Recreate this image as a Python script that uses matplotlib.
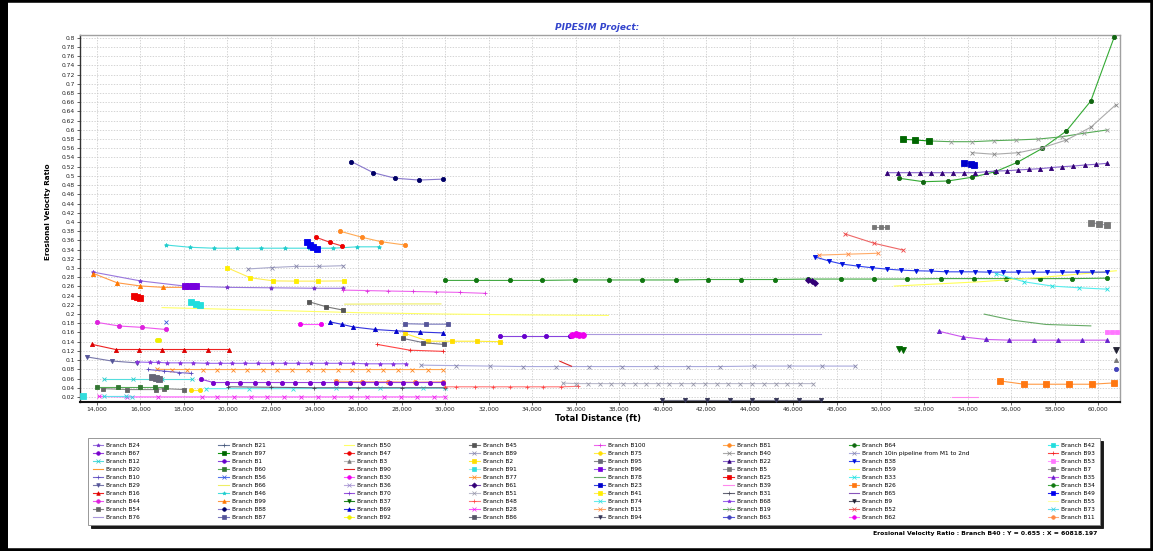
import matplotlib
matplotlib.use("Agg")
import matplotlib.pyplot as plt
from matplotlib.lines import Line2D
from matplotlib.patches import Rectangle

# ---------------- data ----------------
b88_x = [25700, 26700, 27700, 28800, 29900]
b88_y = [0.531, 0.507, 0.495, 0.491, 0.493]
b46_x = [17165, 18284, 19385, 20454, 21541, 22642, 23757, 24857, 25972, 26968]
b46_y = [0.350, 0.345, 0.343, 0.343, 0.343, 0.343, 0.343, 0.343, 0.346, 0.346]
b49_x = [23650, 23800, 23950, 24130]
b49_y = [0.356, 0.351, 0.346, 0.342]
b47_x = [24090, 24710, 25280]
b47_y = [0.3665, 0.3557, 0.3476]
b81_x = [25165, 26200, 27073, 28147]
b81_y = [0.380, 0.3665, 0.357, 0.350]
b89_x = [20960, 22030, 23130, 24200, 25320]
b89_y = [0.298, 0.301, 0.3035, 0.3035, 0.305]
b41_x = [19970, 21040, 22110, 23170, 24170, 25350]
b41_y = [0.301, 0.279, 0.272, 0.2715, 0.2715, 0.272]
b99_x = [13850, 14930, 16000, 17060, 18060]
b99_y = [0.288, 0.268, 0.261, 0.258, 0.258]
b24_x = [13850, 16000, 18000, 20000, 22000, 24000, 25300]
b24_y = [0.291, 0.272, 0.261, 0.258, 0.257, 0.256, 0.256]
b96_x = [18050, 18250, 18400, 18570]
b96_y = [0.261, 0.261, 0.260, 0.260]
b100_x = [25320, 26390, 27380, 28530, 29600, 30670, 31820]
b100_y = [0.252, 0.251, 0.250, 0.249, 0.248, 0.247, 0.245]
b25_x = [15700, 15850, 16000]
b25_y = [0.240, 0.236, 0.234]
b42_x = [18350, 18550, 18740]
b42_y = [0.226, 0.222, 0.219]
b45_x = [23760, 24550, 25320]
b45_y = [0.2265, 0.2157, 0.2085]
b50_x = [17000, 22000, 26000, 30000, 34000, 37500]
b50_y = [0.214, 0.208, 0.203, 0.200, 0.198, 0.197]
b66_x = [25390, 27500, 29810]
b66_y = [0.2215, 0.222, 0.222]
b44_x = [14000, 15030, 16100, 17165]
b44_y = [0.182, 0.174, 0.171, 0.1665]
b56_x = [17165]
b56_y = [0.182]
b92_x = [16750, 16850]
b92_y = [0.143, 0.143]
b16_x = [13800, 14870, 15945, 17014, 18023, 19092, 20073]
b16_y = [0.134, 0.123, 0.123, 0.123, 0.123, 0.123, 0.123]
b29_x = [13541, 14688, 15835]
b29_y = [0.107, 0.098, 0.094]
b68_x = [15835, 16450, 16830, 17210, 17825, 18435, 19046, 19660, 20193, 20807,
         21417, 22027, 22642, 23252, 23862, 24550, 25165, 25775, 26385, 27000,
         27610, 28220]
b68_y = [0.096, 0.095, 0.095, 0.094, 0.094, 0.094, 0.093, 0.093, 0.093, 0.093,
         0.093, 0.093, 0.093, 0.093, 0.093, 0.093, 0.093, 0.093, 0.092, 0.092,
         0.092, 0.092]
m10in_x = [28908, 30514, 32059, 33587, 35087, 36614, 38146, 39670, 41152, 42637,
           44210, 45785, 47318, 48844]
m10in_y = [0.089, 0.088, 0.087, 0.086, 0.086, 0.086, 0.086, 0.086, 0.086, 0.086,
           0.087, 0.087, 0.087, 0.087]
b77_x = [16780, 17470, 18150, 18860, 19540, 20240, 20910, 21620, 22300, 22980,
         23690, 24370, 25060, 25740, 26450, 27130, 27820, 28500, 29210, 29890]
b77_y = [0.080, 0.0795, 0.0795, 0.0795, 0.0795, 0.0795, 0.0795, 0.0795, 0.0795, 0.0795,
         0.0795, 0.0795, 0.0795, 0.0795, 0.0795, 0.0795, 0.0795, 0.0795, 0.0795, 0.0795]
b10_x = [16370, 17100, 17800, 18340]
b10_y = [0.0796, 0.076, 0.073, 0.071]
b67_x = [18789, 19353, 19963, 20578, 21266, 21876, 22487, 23101, 23789, 24399,
         25010, 25624, 26234, 26844, 27458, 28069, 28679, 29294, 29904]
b67_y = [0.0585, 0.0513, 0.0513, 0.0513, 0.0513, 0.0513, 0.0513, 0.0513, 0.0513, 0.0513,
         0.0513, 0.0513, 0.0513, 0.0513, 0.0513, 0.0513, 0.0513, 0.0513, 0.0513]
b11_x = [25000, 26200, 27400, 28600, 29900]
b11_y = [0.054, 0.053, 0.053, 0.052, 0.053]
b12_x = [14350, 15680, 16980, 18360]
b12_y = [0.0585, 0.0585, 0.0585, 0.0585]
b95_x = [16550, 16700, 16850]
b95_y = [0.063, 0.062, 0.060]
b60_x = [14000, 14995, 15990, 16680, 17165]
b60_y = [0.042, 0.042, 0.042, 0.042, 0.042]
b54_x = [14300, 15400, 16700, 17100, 18023]
b54_y = [0.038, 0.036, 0.036, 0.038, 0.036]
b75_x = [18340, 18740]
b75_y = [0.036, 0.036]
b74_x = [19000, 21000, 23000, 25000, 27000, 29000, 30000]
b74_y = [0.038, 0.038, 0.038, 0.0385, 0.0385, 0.039, 0.039]
b31_x = [20050, 22000, 24000, 26000, 28000, 30000]
b31_y = [0.042, 0.041, 0.040, 0.040, 0.040, 0.040]
b48_x = [29981, 30514, 31357, 32197, 32976, 33742, 34504, 35302, 36109]
b48_y = [0.042, 0.042, 0.042, 0.042, 0.042, 0.042, 0.042, 0.042, 0.043]
b51_x = [35400, 36000, 36550, 37100, 37600, 38150, 38700, 39250, 39800, 40300, 40850,
         41400, 41950, 42500, 43000, 43550, 44100, 44650, 45200, 45700, 46300, 46900]
b51_y = [0.050, 0.049, 0.049, 0.049, 0.049, 0.049, 0.049, 0.049, 0.049, 0.049, 0.049,
         0.049, 0.049, 0.049, 0.049, 0.049, 0.049, 0.049, 0.049, 0.049, 0.049, 0.049]
b28_x = [14080, 15380, 16830, 18830, 19540, 20310, 21070, 21840, 22600, 23370,
         24140, 24900, 25670, 26430, 27200, 27960, 28730, 29500, 30000]
b28_y = [0.021, 0.020, 0.020, 0.020, 0.020, 0.020, 0.020, 0.020, 0.020, 0.020,
         0.020, 0.020, 0.020, 0.020, 0.020, 0.020, 0.020, 0.020, 0.020]
b91_x = [13390]
b91_y = [0.022]
b73_x = [14310, 15330, 15600]
b73_y = [0.021, 0.021, 0.020]
b34_x = [29985, 31438, 32976, 34430, 35958, 37531, 39063, 40623, 42073, 43605, 45133,
         46661, 48190, 49722, 51222, 52777, 54305, 55757, 57320, 58816, 60421]
b34_y = [0.273, 0.273, 0.273, 0.273, 0.274, 0.274, 0.274, 0.274, 0.275, 0.275, 0.275,
         0.276, 0.276, 0.276, 0.276, 0.277, 0.277, 0.277, 0.277, 0.277, 0.278]
b61_x = [46650, 46850, 47000]
b61_y = [0.275, 0.271, 0.268]
b1_x = [32518, 33633, 34628, 35729]
b1_y = [0.152, 0.152, 0.152, 0.152]
b62_x = [35830, 36000, 36150, 36330]
b62_y = [0.155, 0.156, 0.155, 0.154]
b76_x = [36300, 40000, 44000, 47250]
b76_y = [0.156, 0.156, 0.156, 0.156]
b2_x = [28150, 29230, 30300, 31450, 32520]
b2_y = [0.158, 0.141, 0.141, 0.141, 0.140]
b69_x = [24706, 25284, 25775, 26770, 27761, 28834, 29903]
b69_y = [0.183, 0.1774, 0.172, 0.1665, 0.1635, 0.161, 0.159]
b30_x = [23330, 24290]
b30_y = [0.1774, 0.1774]
b87_x = [28147, 29137, 30133]
b87_y = [0.179, 0.178, 0.178]
b86_x = [28069, 28986, 29936]
b86_y = [0.147, 0.138, 0.134]
b93_x = [26890, 28380, 29900]
b93_y = [0.134, 0.1215, 0.119]
b90_x = [35270, 35540, 35807]
b90_y = [0.0976, 0.092, 0.0867]
b94_x = [39980, 41004, 42045, 43068, 44109, 45178, 46247, 47274]
b94_y = [0.013, 0.013, 0.013, 0.013, 0.013, 0.013, 0.013, 0.013]
b64_x = [50870, 51970, 53080, 54200, 55270, 56290, 57440, 58540, 59660, 60730]
b64_y = [0.4948, 0.4874, 0.4889, 0.497, 0.509, 0.5296, 0.560, 0.5976, 0.6628, 0.801]
b97_x = [51017, 51600, 52210]
b97_y = [0.5796, 0.578, 0.5759]
b19_x = [52210, 53230, 54220, 55210, 56210, 57240, 58320, 59340, 60410]
b19_y = [0.576, 0.5743, 0.5743, 0.5765, 0.578, 0.580, 0.585, 0.5926, 0.5998]
b40_x = [54200, 55223, 56337, 57438, 58540, 59659, 60818.197]
b40_y = [0.5504, 0.547, 0.5504, 0.5613, 0.578, 0.6057, 0.655]
b23_x = [53850, 54150, 54310]
b23_y = [0.5287, 0.526, 0.5237]
b22_x = [50284, 50789, 51293, 51816, 52320, 52825, 53343, 53848, 54353, 54843, 55302,
         55807, 56293, 56830, 57320, 57825, 58357, 58862, 59399, 59889, 60421]
b22_y = [0.507, 0.507, 0.507, 0.507, 0.507, 0.507, 0.507, 0.507, 0.507, 0.509, 0.5105,
         0.5113, 0.5128, 0.5143, 0.5157, 0.518, 0.520, 0.5215, 0.5237, 0.5252, 0.5274]
b5_x = [59659, 60041, 60421]
b5_y = [0.398, 0.3954, 0.393]
b7_x = [49718, 50028, 50284]
b7_y = [0.3896, 0.3896, 0.3896]
b52_x = [48390, 49718, 51050]
b52_y = [0.3737, 0.3535, 0.3389]
b15_x = [47164, 48494, 49870]
b15_y = [0.328, 0.330, 0.332]
b38_x = [46968, 47656, 48238, 48954, 49614, 50284, 50943, 51631, 52320, 53008, 53696,
         54352, 54962, 55636, 56293, 56981, 57669, 58357, 59045, 59733, 60421]
b38_y = [0.3243, 0.315, 0.3085, 0.3041, 0.3005, 0.2976, 0.2954, 0.294, 0.2933, 0.2917, 0.2917,
         0.2917, 0.291, 0.291, 0.291, 0.291, 0.291, 0.291, 0.291, 0.291, 0.291]
b59_x = [50634, 54535, 57500, 60830]
b59_y = [0.2607, 0.270, 0.280, 0.294]
b33_x = [55302, 56600, 57898, 59123, 60421]
b33_y = [0.288, 0.270, 0.2607, 0.257, 0.254]
b78_x = [54765, 56063, 57595, 59659]
b78_y = [0.1998, 0.1867, 0.1774, 0.1743]
b35_x = [52669, 53770, 54843, 55912, 57058, 58173, 59274, 60421]
b35_y = [0.1628, 0.1504, 0.1448, 0.1433, 0.1433, 0.1433, 0.1433, 0.1433]
b53_x = [60421, 60650, 60880]
b53_y = [0.161, 0.161, 0.161]
b37_x = [50870, 51050]
b37_y = [0.125, 0.123]
b9_x = [60800]
b9_y = [0.123]
b3_x = [60800]
b3_y = [0.101]
b63_x = [60800]
b63_y = [0.0796]
b26_x = [55480, 56600, 57620, 58660, 59700, 60730]
b26_y = [0.0548, 0.0476, 0.0476, 0.0476, 0.0476, 0.0505]
b39_x = [53300, 54500]
b39_y = [0.020, 0.020]

# tick values
x_ticks = list(range(14000, 60001, 2000))
y_ticks = [k / 50 for k in range(1, 41)]

# ---------------- legend entries and styles ----------------
# (label, line colour, marker, marker colour) in column order
legend_entries = [
    ("Branch B24", "#9977dd", "*", "#7733cc"), ("Branch B67", "#9944dd", "o", "#7700cc"),
    ("Branch B12", "#55dddd", "x", "#22cccc"), ("Branch B20", "#ff9933", "", None),
    ("Branch B10", "#7766cc", "+", "#5544bb"), ("Branch B29", "#7777aa", "v", "#555599"),
    ("Branch B16", "#ee2222", "^", "#dd0000"), ("Branch B44", "#ee55ee", "o", "#dd22dd"),
    ("Branch B54", "#888888", "s", "#666666"), ("Branch B76", "#aa99dd", "", None),
    ("Branch B21", "#667799", "+", "#445577"), ("Branch B97", "#119911", "s", "#006600"),
    ("Branch B1", "#8844dd", "o", "#6600cc"), ("Branch B60", "#55aa55", "s", "#337733"),
    ("Branch B56", "#5577ee", "x", "#3355dd"), ("Branch B66", "#eeee66", "", None),
    ("Branch B46", "#44dddd", "*", "#22cccc"), ("Branch B99", "#ff9944", "^", "#ff7700"),
    ("Branch B88", "#8877cc", "o", "#000066"), ("Branch B87", "#7777bb", "s", "#555599"),
    ("Branch B50", "#ffff66", "", None), ("Branch B47", "#ee3333", "o", "#ee0000"),
    ("Branch B3", "#bbbbbb", "^", "#777777"), ("Branch B90", "#dd2222", "", None),
    ("Branch B30", "#ff55ff", "o", "#ee00ee"), ("Branch B36", "#bbaadd", "x", "#9988cc"),
    ("Branch B70", "#9955dd", "+", "#7733cc"), ("Branch B37", "#228822", "v", "#006600"),
    ("Branch B69", "#3333dd", "^", "#0000cc"), ("Branch B92", "#ffff33", "o", "#eeee00"),
    ("Branch B45", "#777777", "s", "#555555"), ("Branch B89", "#aaaacc", "x", "#8888aa"),
    ("Branch B2", "#ffee33", "s", "#ffdd00"), ("Branch B91", "#99eeee", "s", "#33dddd"),
    ("Branch B77", "#ffaa55", "x", "#ff8822"), ("Branch B61", "#7744aa", "D", "#330077"),
    ("Branch B51", "#bbbbcc", "x", "#9999aa"), ("Branch B48", "#ff7777", "+", "#ff4444"),
    ("Branch B28", "#ff55ff", "x", "#ee22ee"), ("Branch B86", "#777788", "s", "#555566"),
    ("Branch B100", "#ee66ee", "+", "#dd33dd"), ("Branch B75", "#ffee44", "o", "#ffdd00"),
    ("Branch B95", "#888888", "s", "#666677"), ("Branch B96", "#9955ee", "s", "#7700dd"),
    ("Branch B78", "#66aa66", "", None), ("Branch B23", "#3344dd", "s", "#0000cc"),
    ("Branch B41", "#ffee55", "s", "#ffee00"), ("Branch B74", "#66eeee", "x", "#33dddd"),
    ("Branch B15", "#ffaa66", "x", "#ff8844"), ("Branch B94", "#777788", "v", "#333355"),
    ("Branch B81", "#ffaa55", "o", "#ff8822"), ("Branch B40", "#aaaaaa", "x", "#888888"),
    ("Branch B22", "#8866cc", "^", "#330077"), ("Branch B5", "#9999aa", "s", "#777777"),
    ("Branch B25", "#ee2222", "s", "#ee0000"), ("Branch B39", "#ff88ee", "", None),
    ("Branch B31", "#666677", "+", "#444455"), ("Branch B68", "#9966ee", "*", "#8833dd"),
    ("Branch B19", "#55aa55", "x", "#999999"), ("Branch B63", "#5555dd", "o", "#4444bb"),
    ("Branch B64", "#33aa33", "o", "#116611"),
    ("Branch 10in pipeline from M1 to 2nd", "#aaaadd", "x", "#8888aa"),
    ("Branch B38", "#3344ee", "v", "#0011dd"), ("Branch B59", "#ffff55", "", None),
    ("Branch B33", "#55eeee", "x", "#22dddd"), ("Branch B26", "#ff9944", "s", "#ff7711"),
    ("Branch B65", "#8855bb", "", None), ("Branch B9", "#555566", "v", "#222233"),
    ("Branch B52", "#ee6666", "x", "#ee4444"), ("Branch B62", "#ff66ff", "o", "#ee00ee"),
    ("Branch B42", "#44eeee", "s", "#22dddd"), ("Branch B93", "#ff4444", "+", "#ee2222"),
    ("Branch B53", "#ff99ff", "s", "#ff77ff"), ("Branch B7", "#999999", "s", "#777777"),
    ("Branch B35", "#cc55ee", "^", "#6622cc"), ("Branch B34", "#44aa44", "o", "#117711"),
    ("Branch B49", "#2222ee", "s", "#0000ee"), ("Branch B55", "#ffffaa", "", None),
    ("Branch B73", "#66ddee", "x", "#33ccdd"), ("Branch B11", "#ffaa77", "o", "#ff8844"),
]
style = {lab: (lc, mk, mc) for lab, lc, mk, mc in legend_entries}

series = [
    ("Branch B88", b88_x, b88_y), ("Branch B46", b46_x, b46_y), ("Branch B49", b49_x, b49_y),
    ("Branch B47", b47_x, b47_y), ("Branch B81", b81_x, b81_y), ("Branch B89", b89_x, b89_y),
    ("Branch B41", b41_x, b41_y), ("Branch B50", b50_x, b50_y), ("Branch B66", b66_x, b66_y),
    ("Branch B24", b24_x, b24_y), ("Branch B99", b99_x, b99_y), ("Branch B96", b96_x, b96_y),
    ("Branch B100", b100_x, b100_y), ("Branch B25", b25_x, b25_y), ("Branch B42", b42_x, b42_y),
    ("Branch B45", b45_x, b45_y), ("Branch B44", b44_x, b44_y), ("Branch B56", b56_x, b56_y),
    ("Branch B92", b92_x, b92_y), ("Branch B16", b16_x, b16_y), ("Branch B29", b29_x, b29_y),
    ("Branch 10in pipeline from M1 to 2nd", m10in_x, m10in_y), ("Branch B68", b68_x, b68_y),
    ("Branch B77", b77_x, b77_y), ("Branch B10", b10_x, b10_y), ("Branch B11", b11_x, b11_y),
    ("Branch B67", b67_x, b67_y), ("Branch B12", b12_x, b12_y), ("Branch B95", b95_x, b95_y),
    ("Branch B54", b54_x, b54_y), ("Branch B60", b60_x, b60_y), ("Branch B75", b75_x, b75_y),
    ("Branch B74", b74_x, b74_y), ("Branch B31", b31_x, b31_y), ("Branch B48", b48_x, b48_y),
    ("Branch B51", b51_x, b51_y), ("Branch B28", b28_x, b28_y), ("Branch B91", b91_x, b91_y),
    ("Branch B73", b73_x, b73_y), ("Branch B34", b34_x, b34_y), ("Branch B61", b61_x, b61_y),
    ("Branch B76", b76_x, b76_y), ("Branch B1", b1_x, b1_y), ("Branch B62", b62_x, b62_y),
    ("Branch B2", b2_x, b2_y), ("Branch B30", b30_x, b30_y), ("Branch B69", b69_x, b69_y),
    ("Branch B87", b87_x, b87_y), ("Branch B86", b86_x, b86_y), ("Branch B93", b93_x, b93_y),
    ("Branch B90", b90_x, b90_y), ("Branch B94", b94_x, b94_y), ("Branch B64", b64_x, b64_y),
    ("Branch B19", b19_x, b19_y), ("Branch B97", b97_x, b97_y), ("Branch B40", b40_x, b40_y),
    ("Branch B23", b23_x, b23_y), ("Branch B22", b22_x, b22_y), ("Branch B5", b5_x, b5_y),
    ("Branch B7", b7_x, b7_y), ("Branch B52", b52_x, b52_y), ("Branch B15", b15_x, b15_y),
    ("Branch B59", b59_x, b59_y), ("Branch B38", b38_x, b38_y), ("Branch B33", b33_x, b33_y),
    ("Branch B78", b78_x, b78_y), ("Branch B35", b35_x, b35_y), ("Branch B53", b53_x, b53_y),
    ("Branch B37", b37_x, b37_y), ("Branch B9", b9_x, b9_y), ("Branch B3", b3_x, b3_y),
    ("Branch B63", b63_x, b63_y), ("Branch B26", b26_x, b26_y), ("Branch B39", b39_x, b39_y),
]
big_markers = {"Branch B25": 4.5, "Branch B49": 4.5, "Branch B42": 4.2, "Branch B91": 4.5,
               "Branch B26": 4.0, "Branch B97": 4.0, "Branch B96": 4.2, "Branch B62": 4.2,
               "Branch B95": 4.0, "Branch B23": 4.0, "Branch B5": 3.8, "Branch B37": 4.0,
               "Branch B9": 4.0}

# ---------------- figure ----------------
W, H = 1153, 551
fig = plt.figure(figsize=(W / 100, H / 100), dpi=100)
fig.patch.set_facecolor("white")
ax = fig.add_axes([80 / W, 1 - 402 / H, (1120 - 80) / W, (402 - 35) / H])

for lab, xs, ys in series:
    lc, mk, mc = style[lab]
    ms = big_markers.get(lab, 3.0)
    ax.plot(xs, ys, color=lc, lw=0.8, marker=mk if mk else None, ms=ms,
            markerfacecolor=mc if mc else lc, markeredgecolor=mc if mc else lc,
            markeredgewidth=0.6, zorder=3)

ax.set_xlim(13230, 61000)
ax.set_ylim(0.009, 0.806)
ax.set_xticks(x_ticks)
ax.set_xticklabels([f"{v:,}" for v in x_ticks])
ax.set_yticks(y_ticks)
ax.set_yticklabels([f"{round(v, 2):g}" for v in y_ticks])
ax.tick_params(axis="both", labelsize=4.3, length=2, width=0.5, pad=1.5, colors="#222222")
ax.grid(True, color="#c4c4c4", lw=0.5, ls=(0, (2, 2)))
ax.set_axisbelow(True)
for side in ("top", "right"):
    ax.spines[side].set_color("#a0a0a0")
    ax.spines[side].set_linewidth(1.0)
ax.spines["left"].set_color("#333333")
ax.spines["left"].set_linewidth(1.0)
ax.spines["bottom"].set_color("#111111")
ax.spines["bottom"].set_linewidth(1.5)

fig.text(597 / W, 1 - 28 / H, "PIPESIM Project:", color="#3344cc", style="italic",
         weight="bold", fontsize=6.5, ha="center", va="center")
fig.text(48 / W, 1 - 212 / H, "Erosional Velocity Ratio", rotation=90, fontsize=5.2,
         weight="bold", ha="center", va="center")
fig.text(598 / W, 1 - 418 / H, "Total Distance (ft)", fontsize=6, weight="bold",
         ha="center", va="center")
fig.text(1097 / W, 1 - 533 / H,
         "Erosional Velocity Ratio : Branch B40 : Y = 0.655 : X = 60818.197",
         fontsize=4.4, weight="bold", ha="right", va="center")

handles = []
labels = []
for lab, lc, mk, mc in legend_entries:
    handles.append(Line2D([], [], color=lc, lw=0.8, marker=mk if mk else None, ms=2.6,
                          markerfacecolor=mc if mc else lc, markeredgecolor=mc if mc else lc,
                          markeredgewidth=0.5))
    labels.append(lab)
leg = fig.legend(handles, labels, ncol=8, loc="upper left",
                 bbox_to_anchor=(88 / W, 1 - 524 / H, (1100 - 88) / W, (524 - 438) / H),
                 mode="expand", fontsize=4.2, labelspacing=0.5, handlelength=1.8,
                 handletextpad=0.5, borderpad=0.85, borderaxespad=0.0, columnspacing=1.0,
                 frameon=True, fancybox=False, edgecolor="#888888",
                 shadow={"color": "black", "alpha": 0.9})
leg.get_frame().set_linewidth(0.6)

# outer black frame
fig.patches.append(Rectangle((0, 0), 1, 1, transform=fig.transFigure, fill=False,
                             edgecolor="black", lw=4, zorder=10))
fig.patches.append(Rectangle((0, 0), 8 / W, 1, transform=fig.transFigure, facecolor="black",
                             edgecolor="none", zorder=10))

fig.savefig("out.png", dpi=100)
